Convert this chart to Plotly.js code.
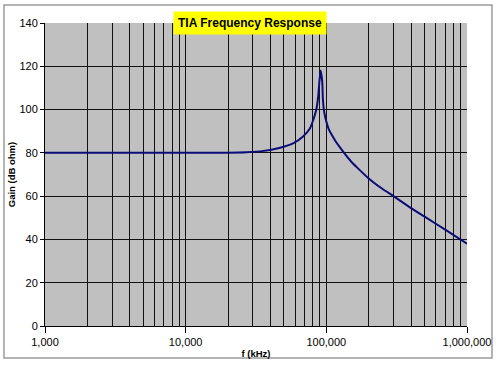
<!DOCTYPE html>
<html>
<head>
<meta charset="utf-8">
<script src="https://cdn.plot.ly/plotly-3.0.1.min.js"></script>
<style>html,body{margin:0;padding:0;background:#fff;}#chart{width:500px;height:366px;}</style>
</head>
<body>
<div id="chart"></div>
<script>
// Frequency (kHz) and gain (dB ohm)
const freqKHz = [1000, 5000, 10000, 20000, 27000, 35000, 47000, 58000, 68000, 76000, 80000, 84700, 87500, 89500, 91000, 93500, 94500, 96000, 99000, 104000, 110000, 116000, 125000, 135000, 150000, 165000, 200000, 250000, 300000, 400000, 500000, 700000, 1000000];
const gainDb  = [80, 80, 80, 80.1, 80.3, 80.8, 82.4, 84.4, 87.5, 91, 94.5, 99.8, 106, 113.7, 118, 113, 105, 100, 95.5, 91, 88, 85.5, 82.5, 79.6, 76, 73.3, 68.2, 63.4, 60, 54.5, 50.5, 44.5, 38];
const xTickVals = [1000, 10000, 100000, 1000000];
const xTickText = ['1,000', '10,000', '100,000', '1,000,000'];
const yTickVals = [0, 20, 40, 60, 80, 100, 120, 140];
const chartTitle = 'TIA Frequency Response';
const xTitle = 'f (kHz)';
const yTitle = 'Gain (dB ohm)';

const font = 'Arial, "Liberation Sans", sans-serif';

const trace = {
  x: freqKHz, y: gainDb, type: 'scatter', mode: 'lines',
  line: {color: '#0c0c78', width: 2, shape: 'spline', smoothing: 0.5},
  hoverinfo: 'skip'
};

const layout = {
  width: 500, height: 366,
  margin: {l: 45, r: 33, t: 23, b: 40},
  paper_bgcolor: '#ffffff',
  plot_bgcolor: '#c0c0c0',
  showlegend: false,
  font: {family: font, color: '#000', size: 11},
  xaxis: {
    type: 'log', range: [3, 6],
    tickvals: xTickVals, ticktext: xTickText,
    ticks: 'outside', ticklen: 6, tickcolor: '#000',
    showline: true, linecolor: '#000', linewidth: 1,
    showgrid: true, gridcolor: '#111', gridwidth: 1,
    minor: {dtick: 'D1', showgrid: true, gridcolor: '#111', gridwidth: 1, ticks: ''},
    zeroline: false,
    tickfont: {size: 11, family: font},
    title: {text: '<b>' + xTitle + '</b>', font: {size: 9.5, family: font}, standoff: 3}
  },
  yaxis: {
    range: [0, 140], tickvals: yTickVals,
    ticks: 'outside', ticklen: 4, tickcolor: '#000',
    showline: true, linecolor: '#000', linewidth: 1,
    showgrid: true, gridcolor: '#111', gridwidth: 1,
    zeroline: false,
    tickfont: {size: 11, family: font},
    title: {text: '<b>' + yTitle + '</b>', font: {size: 9.5, family: font}, standoff: 2}
  },
  annotations: [{
    text: '<b>' + chartTitle + '</b>',
    xref: 'paper', yref: 'paper', x: 0.486, y: 0.999,
    xanchor: 'center', yanchor: 'middle', showarrow: false,
    bgcolor: '#ffff00', borderpad: 4,
    font: {size: 12, family: font, color: '#000'}
  }],
  shapes: [{
    type: 'rect', xref: 'paper', yref: 'paper',
    x0: -0.0972, x1: 1.0592, y0: -0.1056, y1: 1.0594,
    line: {color: '#9a9a9a', width: 1.5}, fillcolor: 'rgba(0,0,0,0)', layer: 'below'
  }]
};

Plotly.newPlot('chart', [trace], layout, {displayModeBar: false, staticPlot: true});
</script>
</body>
</html>
